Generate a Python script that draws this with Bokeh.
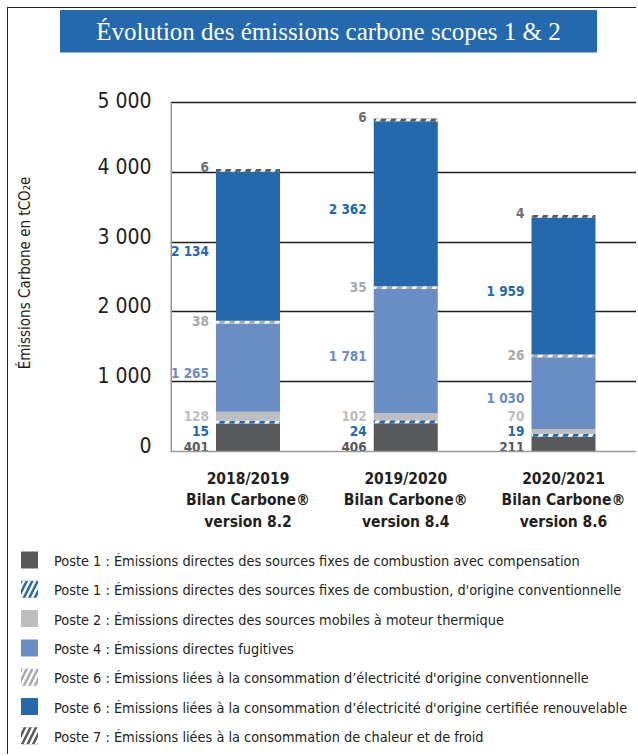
from bokeh.plotting import figure
from bokeh.models import Range1d, FixedTicker, ColumnDataSource, LinearAxis
from bokeh.embed import file_html
from bokeh.resources import INLINE
from bokeh.core.properties import value

# ---------------- data ----------------
chart_title = "Évolution des émissions carbone scopes 1 & 2"
y_axis_title = "Émissions Carbone en tCO₂e"
periods = [
    "2018/2019\nBilan Carbone®\nversion 8.2",
    "2019/2020\nBilan Carbone®\nversion 8.4",
    "2020/2021\nBilan Carbone®\nversion 8.6",
]
series_labels = [
    "Poste 1 : Émissions directes des sources fixes de combustion avec compensation",
    "Poste 1 : Émissions directes des sources fixes de combustion, d'origine conventionnelle",
    "Poste 2 : Émissions directes des sources mobiles à moteur thermique",
    "Poste 4 : Émissions directes fugitives",
    "Poste 6 : Émissions liées à la consommation d’électricité d'origine conventionnelle",
    "Poste 6 : Émissions liées à la consommation d’électricité d'origine certifiée renouvelable",
    "Poste 7 : Émissions liées à la consommation de chaleur et de froid",
]
poste1_compensation = [401, 406, 211]
poste1_conventionnelle = [15, 24, 19]
poste2_mobiles = [128, 102, 70]
poste4_fugitives = [1265, 1781, 1030]
poste6_conventionnelle = [38, 35, 26]
poste6_renouvelable = [2134, 2362, 1959]
poste7_chaleur = [6, 6, 4]
y_ticks = [0, 1000, 2000, 3000, 4000, 5000]
y_tick_labels = ["0", "1 000", "2 000", "3 000", "4 000", "5 000"]

series_values = [poste1_compensation, poste1_conventionnelle, poste2_mobiles,
                 poste4_fugitives, poste6_conventionnelle, poste6_renouvelable,
                 poste7_chaleur]

# ---------------- styles ----------------
NARROW = "DejaVu Sans Condensed"
SERIF = "Liberation Serif"
DARK_TEXT = "#231F20"
BLUE = "#2469AE"
fills = ["#58595B", BLUE, "#BDBEC0", "#6B8DC5", "#A7A9AC", BLUE, "#58595B"]
hatched = [False, True, False, False, True, False, True]
label_colors = ["#58595B", BLUE, "#BDBEC0", "#6B8DC5", "#A7A9AC", BLUE, "#6D6E71"]
label_modes = [("base", -5), ("base", -21), ("base", -36), ("mid", 5),
               ("mid", -1), ("mid", 5), ("mid", -3)]
MIN_BAND = 40  # minimal drawn thickness of tiny segments (as in the reference)

W = 629
BORDER = "1.5px solid #231F20"
H_TITLE, H_CHART, H_LEG = 81, 451, 215
MBT, MBB, MBL = 6, 88, 162
PX_PER_UNIT = 349 / 5000
Y_END = (H_CHART - MBT - MBB) / PX_PER_UNIT
LABEL_LIFT = 5.5 / PX_PER_UNIT   # tick labels sit slightly above their gridlines

# ---------------- title ----------------
pt = figure(width=W, height=H_TITLE, x_range=Range1d(0, W), y_range=Range1d(H_TITLE, 0),
            output_backend="svg", toolbar_location=None, min_border=0,
            x_axis_location=None, y_axis_location=None,
            styles={"margin-left": "7px", "margin-top": "7px",
                    "border-left": BORDER, "border-top": BORDER})
pt.grid.visible = False
pt.outline_line_color = None
pt.quad(left=[51.5], right=[588.5], top=[1.5], bottom=[44], fill_color=BLUE, line_color=None)
pt.text(x=[320], y=[23], text=[chart_title], text_align="center", text_baseline="middle",
        text_color="white", text_font=value(SERIF), text_font_size="25px")

# ---------------- chart ----------------
unit = 157.75
x0 = -(248 - 8.5 - MBL) / unit
p = figure(width=W, height=H_CHART, x_range=Range1d(x0, x0 + (W - MBL) / unit),
           y_range=Range1d(0, Y_END), output_backend="svg", toolbar_location=None,
           min_border_left=MBL, min_border_right=0, min_border_top=MBT, min_border_bottom=MBB,
           styles={"margin-left": "7px", "border-left": BORDER})
p.outline_line_color = None
p.xgrid.visible = False
p.ygrid.ticker = FixedTicker(ticks=y_ticks[1:])
p.ygrid.grid_line_color = DARK_TEXT
p.ygrid.grid_line_width = 1.5
p.yaxis[0].visible = False

p.extra_y_ranges = {"labels": Range1d(-LABEL_LIFT, Y_END - LABEL_LIFT)}
ax = LinearAxis(y_range_name="labels", ticker=FixedTicker(ticks=y_ticks),
                major_label_overrides=dict(zip(y_ticks, y_tick_labels)))
ax.major_tick_line_color = None
ax.minor_tick_line_color = None
ax.axis_line_color = None
ax.major_label_text_font = NARROW
ax.major_label_text_font_size = "21px"
ax.major_label_text_color = DARK_TEXT
ax.major_label_standoff = 13
ax.axis_label = y_axis_title
ax.axis_label_text_font = NARROW
ax.axis_label_text_font_size = "15px"
ax.axis_label_text_font_style = "normal"
ax.axis_label_text_color = DARK_TEXT
ax.axis_label_standoff = 60
p.add_layout(ax, "left")

xs = list(range(len(periods)))
p.xaxis.ticker = FixedTicker(ticks=xs)
p.xaxis.major_label_overrides = dict(zip(xs, periods))
p.xaxis.major_tick_line_color = None
p.xaxis.minor_tick_line_color = None
p.xaxis.axis_line_color = "#9A9A9A"
p.xaxis.axis_line_width = 1.5
p.xaxis.major_label_text_font = NARROW
p.xaxis.major_label_text_font_size = "15.5px"
p.xaxis.major_label_text_font_style = "bold"
p.xaxis.major_label_text_color = DARK_TEXT
p.xaxis.major_label_standoff = 12

# gray vertical axis line at the frame's left edge, from 0 up to the top gridline
p.segment(x0=[x0], y0=[0], x1=[x0], y1=[y_ticks[-1]], line_color="#9A9A9A", line_width=3)

bar_w = 64 / unit
bottoms = [0.0] * len(xs)
for vals, fc, hat, lc, mode in zip(series_values, fills, hatched, label_colors, label_modes):
    disp = [max(v, MIN_BAND) for v in vals]
    tops = [b + d for b, d in zip(bottoms, disp)]
    kw = dict(hatch_pattern="/", hatch_color="white", hatch_scale=20, hatch_weight=4) if hat else {}
    p.vbar(x=xs, bottom=bottoms, top=tops, width=bar_w, fill_color=fc, line_color=None, **kw)
    if mode[0] == "base":
        ly = [0] * len(xs)
    else:
        ly = [(b + t) / 2 for b, t in zip(bottoms, tops)]
    src = ColumnDataSource(dict(x=xs, y=ly, t=[f"{v:,}".replace(",", " ") for v in vals]))
    p.text(x="x", y="y", text="t", source=src, text_align="right", text_baseline="middle",
           x_offset=-39, y_offset=mode[1], text_color=lc, text_font=value(NARROW),
           text_font_style="bold", text_font_size="13.5px")
    bottoms = tops

# ---------------- legend ----------------
pl = figure(width=W, height=H_LEG, x_range=Range1d(0, W), y_range=Range1d(H_LEG, 0),
            output_backend="svg", toolbar_location=None, min_border=0,
            x_axis_location=None, y_axis_location=None,
            styles={"margin-left": "7px", "border-left": BORDER})
pl.grid.visible = False
pl.outline_line_color = None
row_y = [20.5 + 29.3 * i for i in range(len(series_labels))]
for i, (lab, fc, hat) in enumerate(zip(series_labels, fills, hatched)):
    kw = dict(hatch_pattern="/", hatch_color="white", hatch_scale=11, hatch_weight=2.5) if hat else {}
    pl.rect(x=[21], y=[row_y[i]], width=17, height=17, fill_color=fc, line_color=None, **kw)
    pl.text(x=[45.5], y=[row_y[i] + 1], text=[lab], text_align="left", text_baseline="middle",
            text_color=DARK_TEXT, text_font=value(NARROW), text_font_size="14.4px")

open("out.html", "w").write(file_html([pt, p, pl], INLINE))
